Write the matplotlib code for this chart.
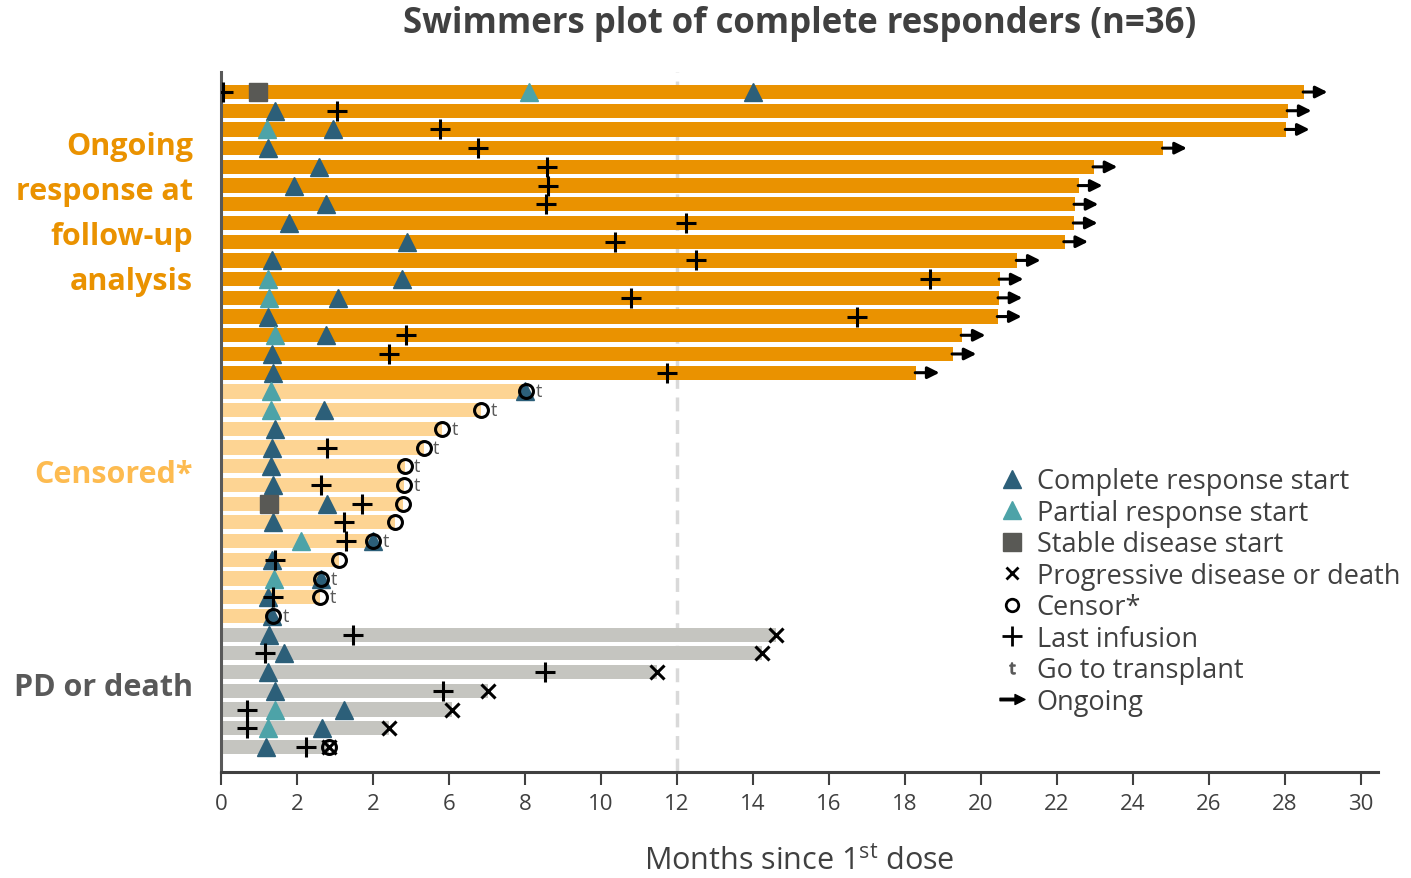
import matplotlib
matplotlib.use("Agg")
import matplotlib.pyplot as plt
from matplotlib.lines import Line2D
from matplotlib.path import Path
import numpy as np

plt.rcParams['font.family'] = ['Open Sans', 'DejaVu Sans']
plt.rcParams['mathtext.fontset'] = 'custom'
plt.rcParams['mathtext.rm'] = 'Open Sans'
plt.rcParams['mathtext.it'] = 'Open Sans:italic'
plt.rcParams['mathtext.bf'] = 'Open Sans:bold'

# ---- data: one entry per patient, top to bottom ----
ongoing_end = [28.5, 28.08, 28.03, 24.8, 22.97, 22.58, 22.47, 22.45, 22.2, 20.95,
               20.5, 20.47, 20.45, 19.5, 19.26, 18.29]
censored_end = [8.03, 6.84, 5.81, 5.33, 4.83, 4.81, 4.79, 4.59, 4.0, 3.11, 2.64, 2.6, 1.37]
pd_end = [14.6, 14.25, 11.48, 7.03, 6.07, 4.43, 2.83]

cr_start = [14.0, 1.42, 2.96, 1.23, 2.58, 1.91, 2.76, 1.8, 4.9, 1.35, 4.76, 3.09, 1.24, 2.76, 1.34, 1.38,
            8.0, 2.71, 1.43, 1.34, 1.31, 1.38, 2.79, 1.37, 3.99, 1.34, 2.64, 1.24, 1.35,
            1.26, 1.65, 1.25, 1.42, 3.23, 2.65, 1.19]
pr_start = {0: 8.1, 2: 1.21, 10: 1.24, 11: 1.26, 13: 1.43, 16: 1.32, 17: 1.32,
            24: 2.1, 26: 1.4, 33: 1.41, 34: 1.23}
sd_start = {0: 0.97, 22: 1.27}
last_infusion = {0: 0.04, 1: 3.06, 2: 5.77, 3: 6.77, 4: 8.59, 5: 8.6, 6: 8.55, 7: 12.24,
                 8: 10.37, 9: 12.5, 10: 18.66, 11: 10.8, 12: 16.74, 13: 4.87, 14: 4.43,
                 15: 11.75, 19: 2.79, 21: 2.63, 22: 3.71, 23: 3.25, 24: 3.29, 25: 1.43,
                 27: 1.38, 29: 3.47, 30: 1.16, 31: 8.52, 32: 5.83, 33: 0.69, 34: 0.69, 35: 2.24}
extra_censor = {35: 2.83}
transplant_rows = [16, 17, 18, 19, 20, 21, 24, 26, 27, 28]

x_ticks = list(range(0, 31, 2))
x_tick_labels = ["0", "2", "2", "6", "8", "10", "12", "14", "16", "18", "20", "22",
                 "24", "26", "28", "30"]
group_labels = [["Ongoing", "response at", "follow-up", "analysis"], ["Censored*"], ["PD or death"]]

# ---- colours ----
C_ONGOING = "#EA9200"
C_CENSOR = "#FDD493"
C_PD = "#C5C5C0"
C_CR = "#2C5F79"
C_PR = "#4DA3A8"
C_SD = "#595955"
C_TEXT = "#404040"

durations = ongoing_end + censored_end + pd_end
groups = ["ongoing"] * len(ongoing_end) + ["censored"] * len(censored_end) + ["pd"] * len(pd_end)
bar_colors = {"ongoing": C_ONGOING, "censored": C_CENSOR, "pd": C_PD}
rows = np.arange(len(durations))

fig = plt.figure(figsize=(14.11, 8.79), dpi=100)
ax = fig.add_axes([221 / 1411, 1 - 773 / 879, (1378 - 221) / 1411, (773 - 73) / 879])

ax.axvline(12, color="#D9D9D9", lw=2.5, ls=(0, (4, 2.5)), zorder=0)

ax.barh(rows, durations, height=0.76, color=[bar_colors[g] for g in groups], zorder=1)

ms = 13
ax.plot(cr_start, rows, ls="none", marker="^", ms=ms, color=C_CR, zorder=3)
ax.plot(list(pr_start.values()), list(pr_start.keys()), ls="none", marker="^", ms=ms, color=C_PR, zorder=3)
ax.plot(list(sd_start.values()), list(sd_start.keys()), ls="none", marker="s", ms=13, color=C_SD, zorder=3)
ax.plot(list(last_infusion.values()), list(last_infusion.keys()), ls="none", marker="+", ms=14,
        mew=2.2, color="black", zorder=4)

# censor circles at the end of censored bars
cens_rows = [i for i, g in enumerate(groups) if g == "censored"]
cx = [durations[i] for i in cens_rows] + list(extra_censor.values())
cy = cens_rows + list(extra_censor.keys())
ax.plot(cx, cy, ls="none", marker="o", ms=10, mfc="none", mec="black", mew=2.2, zorder=5)

# progressive disease / death
pd_rows = [i for i, g in enumerate(groups) if g == "pd"]
ax.plot([durations[i] for i in pd_rows], pd_rows, ls="none", marker="x", ms=10, mew=2.2,
        color="black", zorder=5)

# transplant flags
for r in transplant_rows:
    ax.annotate("t", (durations[r], r), xytext=(7, 0), textcoords="offset points",
                ha="left", va="center", fontsize=13, color="#595959", zorder=6)

# ongoing arrows
for r, g in enumerate(groups):
    if g == "ongoing":
        ax.annotate("", xy=(durations[r] + 0.62, r), xytext=(durations[r] - 0.02, r),
                    arrowprops=dict(arrowstyle="-|>,head_length=0.5,head_width=0.25",
                                    color="black", lw=2.2, mutation_scale=14, shrinkA=0, shrinkB=0),
                    zorder=6)

ax.set_xlim(0, 30.45)
ax.set_ylim(35 + 1.34, -1.07)
ax.set_yticks([])
ax.set_xticks(x_ticks)
ax.set_xticklabels(x_tick_labels)
ax.tick_params(axis="x", length=9, width=1.5, color="#404040", labelsize=16,
               labelcolor=C_TEXT, pad=6)
for s in ("top", "right"):
    ax.spines[s].set_visible(False)
ax.spines["left"].set_color("#595959")
ax.spines["left"].set_linewidth(2.2)
ax.spines["bottom"].set_color("#404040")
ax.spines["bottom"].set_linewidth(2.2)

ax.set_xlabel("Months since 1$^{\\mathrm{st}}$ dose", fontsize=22, color=C_TEXT, labelpad=23)

fig.text(800 / 1411, 1 - 24 / 879, "Swimmers plot of complete responders (n=36)",
         ha="center", va="center", fontsize=25, fontweight="bold", color=C_TEXT)

# group labels on the left
label_specs = [(group_labels[0], [147, 192, 237, 282], C_ONGOING),
               (group_labels[1], [475], "#FDBB50"),
               (group_labels[2], [688], "#595959")]
for lines, ys, col in label_specs:
    for line, y in zip(lines, ys):
        fig.text(193 / 1411, 1 - y / 879, line, ha="right", va="center", fontsize=22,
                 fontweight="bold", color=col)

# legend
arrow_path = Path([(-1, -0.1), (0.2, -0.1), (0.2, -0.4), (1, 0), (0.2, 0.4),
                   (0.2, 0.1), (-1, 0.1), (-1, -0.1)],
                  [Path.MOVETO] + [Path.LINETO] * 6 + [Path.CLOSEPOLY])
handles = [
    Line2D([], [], ls="none", marker="^", ms=13, color=C_CR),
    Line2D([], [], ls="none", marker="^", ms=13, color=C_PR),
    Line2D([], [], ls="none", marker="s", ms=13, color=C_SD),
    Line2D([], [], ls="none", marker="x", ms=9, mew=2, color="black"),
    Line2D([], [], ls="none", marker="o", ms=9, mfc="none", mec="black", mew=2),
    Line2D([], [], ls="none", marker="+", ms=15, mew=2, color="black"),
    Line2D([], [], ls="none", marker="$\\mathrm{t}$", ms=8, color="#595959"),
    Line2D([], [], ls="none", marker=arrow_path, ms=18, color="black"),
]
labels = ["Complete response start", "Partial response start", "Stable disease start",
          "Progressive disease or death", "Censor*", "Last infusion", "Go to transplant", "Ongoing"]
fig.legend(handles, labels, loc="upper left", bbox_to_anchor=(1000 / 1411, 1 - 468 / 879),
           frameon=False, fontsize=19.5, handlelength=0.9, handletextpad=0.45,
           labelspacing=0.13, labelcolor=C_TEXT, borderaxespad=0, borderpad=0)

fig.savefig("out.png", dpi=100)
